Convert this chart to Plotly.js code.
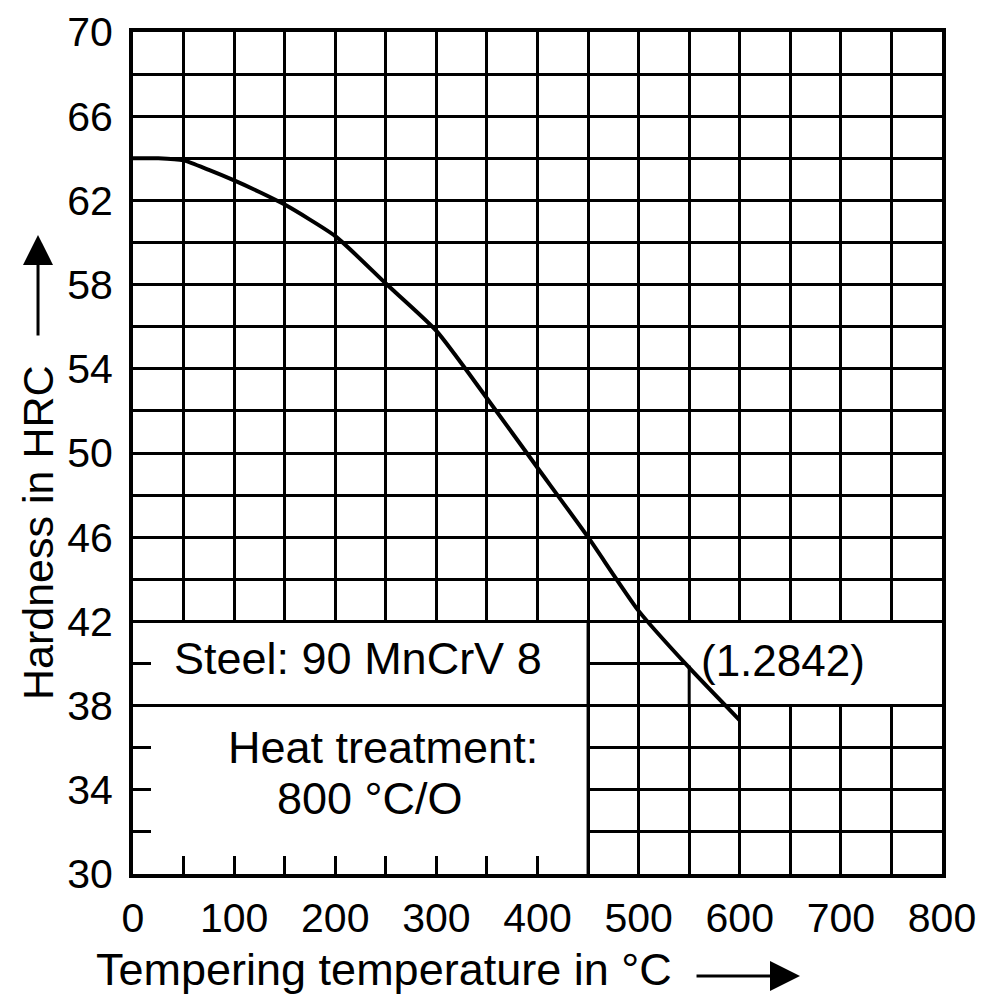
<!DOCTYPE html>
<html>
<head>
<meta charset="utf-8">
<script src="https://cdn.plot.ly/plotly-3.0.1.min.js"></script>
<style>
  html, body { margin: 0; padding: 0; background: #ffffff; }
  #chart { width: 994px; height: 998px; }
</style>
</head>
<body>
<div id="chart"></div>
<script>
// Tempering temperature (°C) and hardness (HRC)
const temps    = [0, 25, 50, 75, 100, 125, 150, 200, 250, 300, 350, 400, 450, 500, 550, 600];
const hardness = [64.0, 64.0, 63.9, 63.45, 62.95, 62.4, 61.8, 60.3, 58.05, 55.8, 52.6, 49.3, 46.0, 42.5, 39.8, 37.3];

// Axis ticks / grid
const xTickVals   = [0, 50, 100, 150, 200, 250, 300, 350, 400, 450, 500, 550, 600, 650, 700, 750, 800];
const xTickLabels = ['0', '', '100', '', '200', '', '300', '', '400', '', '500', '', '600', '', '700', '', '800'];
const yTickVals   = [30, 32, 34, 36, 38, 40, 42, 44, 46, 48, 50, 52, 54, 56, 58, 60, 62, 64, 66, 68, 70];
const yTickLabels = ['30', '', '34', '', '38', '', '42', '', '46', '', '50', '', '54', '', '58', '', '62', '', '66', '', '70'];

// Texts
const xTitle = 'Tempering temperature in °C';
const yTitle = 'Hardness in HRC';
const steelLabel = 'Steel: 90 MnCrV 8';
const steelNumber = '(1.2842)';
const heatLabel = 'Heat treatment:';
const heatValue = '800 °C/O';

const FONT = 'Liberation Sans, Arial, sans-serif';
const BLACK = '#000000';

const trace = {
  x: temps,
  y: hardness,
  type: 'scatter',
  mode: 'lines',
  line: { color: BLACK, width: 4, shape: 'spline', smoothing: 0.6 },
  hoverinfo: 'skip',
  showlegend: false
};

function hline(y, x0, x1, w) {
  return { type: 'line', xref: 'x', yref: 'y', x0: x0, x1: x1, y0: y, y1: y,
           line: { color: BLACK, width: w }, layer: 'between' };
}
function vline(x, y0, y1, w) {
  return { type: 'line', xref: 'x', yref: 'y', x0: x, x1: x, y0: y0, y1: y1,
           line: { color: BLACK, width: w }, layer: 'between' };
}

const shapes = [
  // white label boxes covering the grid
  { type: 'rect', xref: 'x', yref: 'y', x0: 0, x1: 450, y0: 30, y1: 42,
    fillcolor: '#ffffff', line: { width: 0 }, layer: 'between' },
  { type: 'rect', xref: 'x', yref: 'y', x0: 545, x1: 800, y0: 38, y1: 42,
    fillcolor: '#ffffff', line: { width: 0 }, layer: 'between' },
  hline(42, 0, 800, 3),
  hline(38, 0, 800, 3),
  vline(450, 30, 42, 3),
  vline(550, 38, 39.9, 3)
];

const annotations = [
  { xref: 'x', yref: 'y', x: 38.5, y: 40.25, xanchor: 'left', yanchor: 'middle',
    text: steelLabel, showarrow: false, font: { family: FONT, size: 45, color: BLACK } },
  { xref: 'x', yref: 'y', x: 560, y: 40.15, xanchor: 'left', yanchor: 'middle',
    text: steelNumber, showarrow: false, font: { family: FONT, size: 44, color: BLACK } },
  { xref: 'x', yref: 'y', x: 247, y: 36.0, xanchor: 'center', yanchor: 'middle',
    text: heatLabel, showarrow: false, font: { family: FONT, size: 45, color: BLACK } },
  { xref: 'x', yref: 'y', x: 234, y: 33.6, xanchor: 'center', yanchor: 'middle',
    text: heatValue, showarrow: false, font: { family: FONT, size: 45, color: BLACK } },
  // axis titles
  { xref: 'paper', yref: 'paper', x: -0.0482, y: -0.114, xanchor: 'left', yanchor: 'middle',
    text: xTitle, showarrow: false, font: { family: FONT, size: 45, color: BLACK } },
  { xref: 'paper', yref: 'paper', x: -0.1174, y: 0.405, xanchor: 'center', yanchor: 'middle',
    text: yTitle, textangle: -90, showarrow: false, font: { family: FONT, size: 43, color: BLACK } },
  // title arrows
  { xref: 'paper', yref: 'paper', x: 0.8245, y: -0.121, text: '', showarrow: true,
    ax: -105, ay: 0, arrowhead: 2, arrowsize: 2, arrowwidth: 3, arrowcolor: BLACK },
  { xref: 'paper', yref: 'paper', x: -0.1174, y: 0.759, text: '', showarrow: true,
    ax: 0, ay: 102, arrowhead: 2, arrowsize: 2, arrowwidth: 3, arrowcolor: BLACK }
];

const axisCommon = {
  showgrid: true, gridcolor: BLACK, gridwidth: 3,
  showline: true, linecolor: BLACK, linewidth: 4, mirror: true,
  zeroline: false,
  ticks: 'inside', ticklen: 18, tickwidth: 3, tickcolor: BLACK,
  tickfont: { family: FONT, size: 41, color: BLACK },
  fixedrange: true
};

const layout = {
  width: 994, height: 998,
  margin: { l: 133, r: 52, t: 32, b: 124 },
  paper_bgcolor: '#ffffff', plot_bgcolor: '#ffffff',
  showlegend: false,
  xaxis: Object.assign({}, axisCommon, {
    range: [0, 800], tickmode: 'array', tickvals: xTickVals, ticktext: xTickLabels,
    ticklabelstandoff: 5
  }),
  yaxis: Object.assign({}, axisCommon, {
    range: [30, 70], tickmode: 'array', tickvals: yTickVals, ticktext: yTickLabels,
    ticklabelstandoff: 8
  }),
  shapes: shapes,
  annotations: annotations
};

Plotly.newPlot('chart', [trace], layout, { staticPlot: true, displayModeBar: false });
</script>
</body>
</html>
